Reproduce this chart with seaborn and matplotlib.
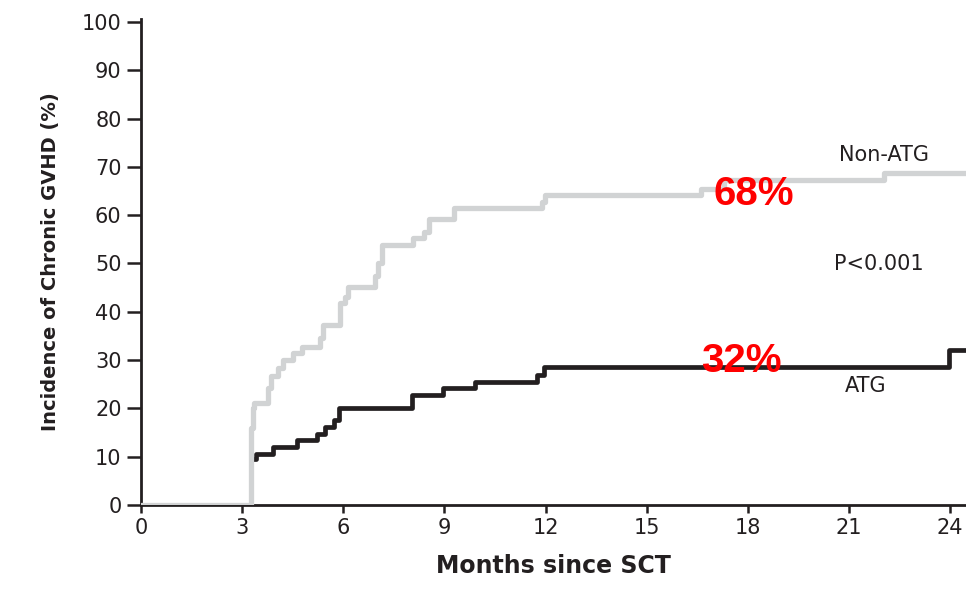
import numpy as np
import pandas as pd
import matplotlib
matplotlib.use("Agg")
import matplotlib.pyplot as plt
import seaborn as sns

# ---- data ----
nonatg_months = [0, 3.26, 3.32, 3.36, 3.78, 3.85, 4.07, 4.22, 4.52, 4.77, 5.31, 5.41,
                 5.90, 6.05, 6.15, 6.94, 7.04, 7.14, 8.08, 8.38, 8.53, 9.27, 11.89,
                 11.99, 16.6, 17.3, 22.03, 24.5]
nonatg_incidence = [0, 16.0, 20.0, 21.1, 24.2, 26.6, 28.3, 30.0, 31.4, 32.8, 34.5, 37.3,
                    41.8, 43.1, 45.2, 47.3, 50.0, 53.8, 55.2, 56.6, 59.3, 61.4, 62.8,
                    64.2, 65.5, 67.3, 68.7, 68.7]
atg_months = [0, 3.255, 3.42, 3.93, 4.62, 5.21, 5.46, 5.71, 5.86, 8.03, 8.97, 9.91,
              11.74, 11.94, 23.96, 24.5]
atg_incidence = [0, 9.5, 10.5, 12.1, 13.5, 14.7, 16.2, 17.6, 20.0, 22.8, 24.2, 25.5,
                 26.9, 28.5, 32.1, 32.1]
groups = ["ATG", "Non-ATG"]
x_ticks = [0, 3, 6, 9, 12, 15, 18, 21, 24]
y_ticks = [0, 10, 20, 30, 40, 50, 60, 70, 80, 90, 100]

df = pd.concat([
    pd.DataFrame({"month": atg_months, "incidence": atg_incidence, "group": "ATG"}),
    pd.DataFrame({"month": nonatg_months, "incidence": nonatg_incidence, "group": "Non-ATG"}),
], ignore_index=True)

sns.set_theme(style="white")
plt.rcParams["font.family"] = ["DejaVu Sans"]

dark = "#231f20"
fig = plt.figure(figsize=(9.66, 5.89), dpi=100)
ax = fig.add_axes([141 / 966, 84 / 589, 825 / 966, 486 / 589])

sns.lineplot(data=df, x="month", y="incidence", hue="group", hue_order=groups,
             palette={"ATG": dark, "Non-ATG": "#d1d3d4"}, drawstyle="steps-post",
             linewidth=3.4, estimator=None, sort=False, legend=False, ax=ax)
# draw grey on top
for line in ax.get_lines():
    if matplotlib.colors.to_hex(line.get_color()) == "#d1d3d4":
        line.set_zorder(3)
        line.set_linewidth(3.8)

ax.set_xlim(0, 24.47)
ax.set_ylim(0, 100.6)
ax.set_xticks(x_ticks)
ax.set_yticks(y_ticks)
ax.set_xticklabels([str(v) for v in x_ticks], fontsize=15, color=dark)
ax.set_yticklabels([str(v) for v in y_ticks], fontsize=15, color=dark)
ax.tick_params(axis="x", direction="out", length=6, width=1.8, color=dark, pad=3, bottom=True)
ax.tick_params(axis="y", direction="out", length=10, width=1.8, color=dark, pad=4, left=True)
for s in ["top", "right"]:
    ax.spines[s].set_visible(False)
for s in ["left", "bottom"]:
    ax.spines[s].set_color(dark)
    ax.spines[s].set_linewidth(2.0)

ax.set_xlabel("Months since SCT", fontsize=17, fontweight="bold", color=dark, labelpad=12)
ax.set_ylabel("Incidence of Chronic GVHD (%)", fontsize=14, fontweight="bold", color=dark,
              labelpad=16)

ax.text(22.05, 72.5, "Non-ATG", fontsize=15, color=dark, ha="center", va="center")
ax.text(21.87, 49.9, "P<0.001", fontsize=15, color=dark, ha="center", va="center")
ax.text(21.5, 24.6, "ATG", fontsize=15, color=dark, ha="center", va="center")
ax.text(18.19, 64.4, "68%", fontsize=29, color="#ff0000", fontweight="bold",
        fontfamily="Liberation Sans", ha="center", va="center", zorder=5)
ax.text(17.8, 29.8, "32%", fontsize=29, color="#ff0000", fontweight="bold",
        fontfamily="Liberation Sans", ha="center", va="center", zorder=5)

fig.savefig("out.png", dpi=100)
